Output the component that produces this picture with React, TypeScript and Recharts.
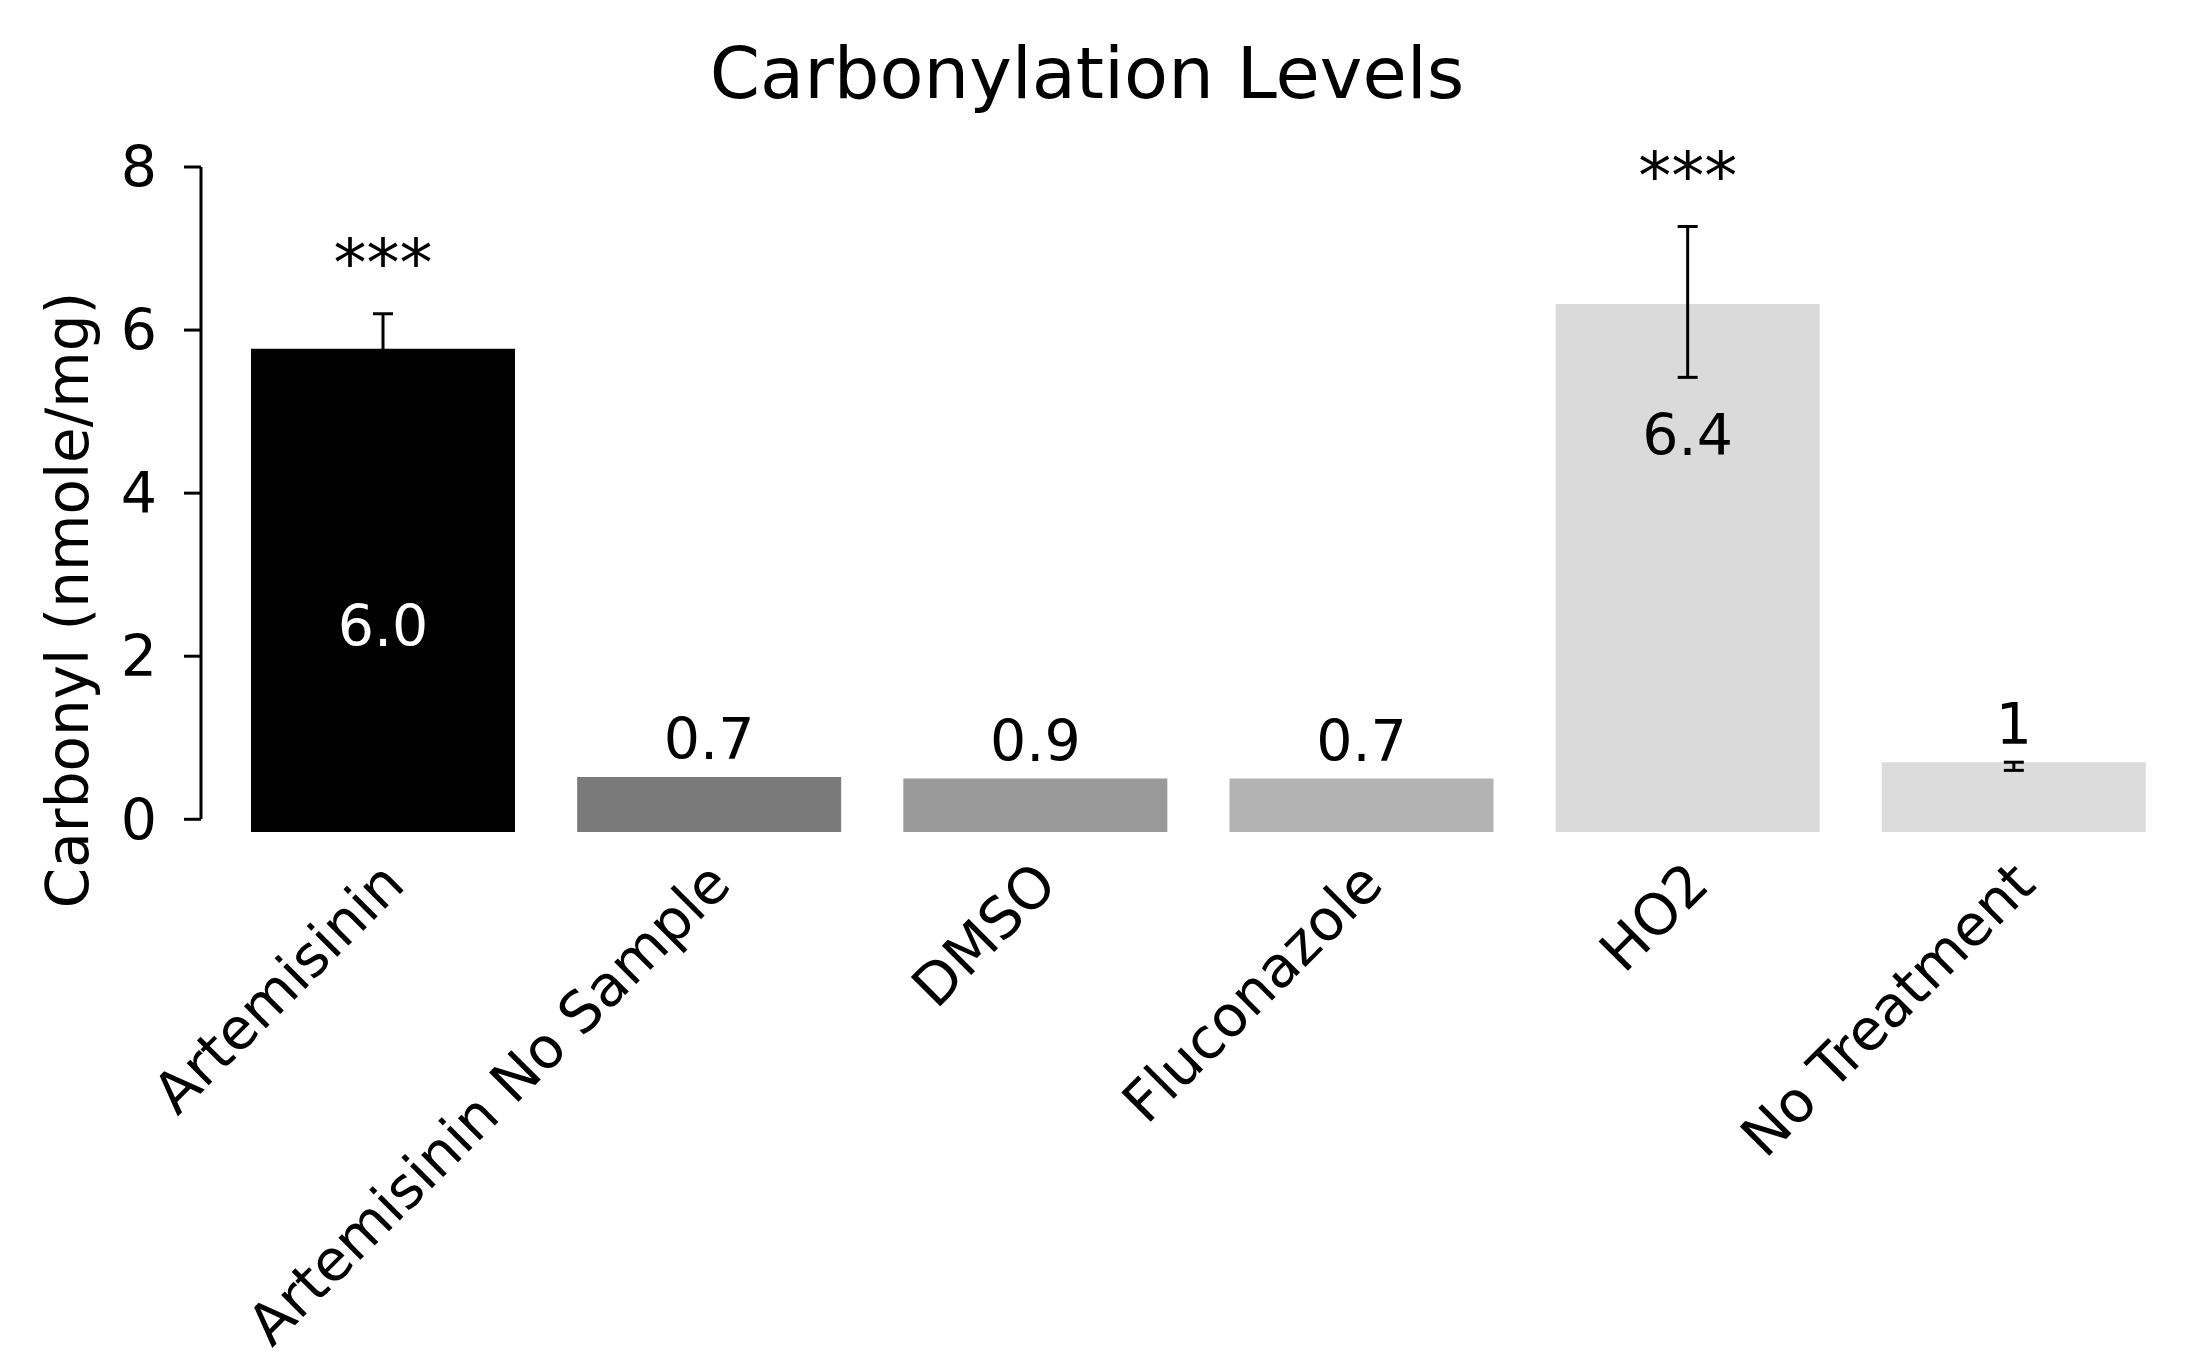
import React from 'react';
import { BarChart, Bar, XAxis, YAxis, ErrorBar, Cell, LabelList } from 'recharts';

// ---- data ----
const categories = ['Artemisinin', 'Artemisinin No Sample', 'DMSO', 'Fluconazole', 'HO2', 'No Treatment'];
const values = [5.77, 0.52, 0.5, 0.5, 6.32, 0.7];
const errors: (number[] | null)[] = [[0.43, 0.43], null, null, null, [0.9, 0.95], [0.1, 0]];
const valueLabels = ['6.0', '0.7', '0.9', '0.7', '6.4', '1'];
const significance = ['***', '', '', '', '***', ''];
const yTicks = [0, 2, 4, 6, 8];

// ---- styles ----
const barColors = ['#000000', '#7a7a7a', '#999999', '#b3b3b3', '#dadada', '#dcdcdc'];
const labelColors = ['#ffffff', '#000', '#000', '#000', '#000', '#000'];
const labelModes = ['center', 'above', 'above', 'above', 'inside', 'above'];
const BAR_BASE = -0.156;
const FONT = 'DejaVu Sans';

const data = categories.map((name, i) => ({
  name,
  range: [BAR_BASE, values[i]],
  err: errors[i],
}));

const CategoryTick = (props: any) => {
  const { x, y, payload } = props;
  const bx = x + 24;
  const by = y + 55;
  return (
    <text
      x={bx}
      y={by}
      transform={`rotate(-45, ${bx}, ${by})`}
      textAnchor="end"
      fontSize={57}
      fontFamily={FONT}
      fill="#000"
    >
      {payload.value}
    </text>
  );
};

const renderLabel = (props: any) => {
  const { x, y, width, height, index } = props;
  const cx = x + width / 2;
  const mode = labelModes[index];
  let ty: number;
  if (mode === 'center') ty = y + height / 2 + 56;
  else if (mode === 'inside') ty = y + 151;
  else ty = y - 18;
  const ppu = height / (values[index] - BAR_BASE);
  const err = errors[index];
  const errTop = y - (err ? err[1] : 0) * ppu;
  return (
    <g>
      <text x={cx} y={ty} textAnchor="middle" fontSize={57} fontFamily={FONT} fill={labelColors[index]}>
        {valueLabels[index]}
      </text>
      {significance[index] ? (
        <text x={cx} y={errTop - 28} textAnchor="middle" fontSize={66} fontFamily={FONT} fill="#000">
          {significance[index]}
        </text>
      ) : null}
    </g>
  );
};

export default function App() {
  return (
    <div style={{ position: 'absolute', left: 0, top: 0, width: 2212, height: 1365, background: '#fff' }}>
      <BarChart
        width={2212}
        height={1365}
        data={data}
        margin={{ top: 167, right: 35, bottom: 0, left: 0 }}
        barSize={264}
      >
        <XAxis
          dataKey="name"
          axisLine={false}
          tickLine={false}
          tickSize={0}
          tickMargin={0}
          height={533}
          interval={0}
          padding={{ left: 19, right: 0 }}
          tick={<CategoryTick />}
        />
        <YAxis
          type="number"
          domain={[BAR_BASE, 8]}
          ticks={yTicks}
          allowDataOverflow
          width={201}
          tickSize={17}
          tickMargin={27}
          axisLine={{ stroke: '#000', strokeWidth: 3, strokeDasharray: '652 2000' }}
          tickLine={{ stroke: '#000', strokeWidth: 3 }}
          tick={{ fill: '#000', fontSize: 57, fontFamily: FONT }}
        />
        <Bar dataKey="range" isAnimationActive={false}>
          {data.map((d, i) => (
            <Cell key={d.name} fill={barColors[i]} />
          ))}
          <ErrorBar dataKey="err" width={10} stroke="#000" strokeWidth={3} direction="y" />
          <LabelList dataKey="range" content={renderLabel} />
        </Bar>
      </BarChart>
      <svg
        width={2212}
        height={1365}
        style={{ position: 'absolute', left: 0, top: 0, pointerEvents: 'none' }}
      >
        <text x={1087} y={98} textAnchor="middle" fontSize={72} fontFamily={FONT} fill="#000">
          Carbonylation Levels
        </text>
        <text
          x={88}
          y={600}
          transform="rotate(-90, 88, 600)"
          textAnchor="middle"
          fontSize={58}
          fontFamily={FONT}
          fill="#000"
        >
          Carbonyl (nmole/mg)
        </text>
      </svg>
    </div>
  );
}
